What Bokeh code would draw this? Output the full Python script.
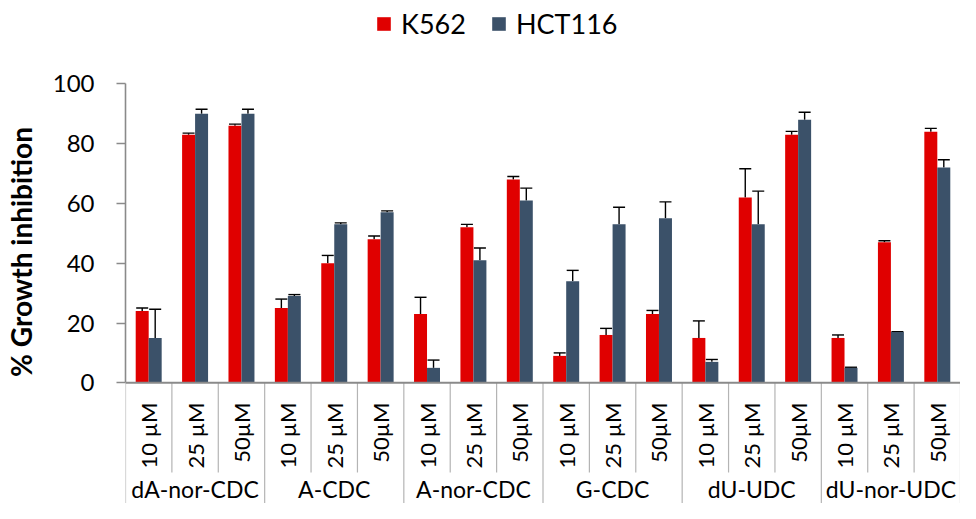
import numpy as np
from bokeh.plotting import figure
from bokeh.models import (Range1d, ColumnDataSource, Whisker, TeeHead, Legend,
                          LegendItem, Span, FixedTicker)
from bokeh.embed import file_html
from bokeh.resources import INLINE
from bokeh.core.properties import value

# ---------------- data ----------------
groups = ["dA-nor-CDC", "A-CDC", "A-nor-CDC", "G-CDC", "dU-UDC", "dU-nor-UDC"]
concentrations = ["10 µM", "25 µM", "50µM"]
series_names = ["K562", "HCT116"]
k562 = [24, 83, 86, 25, 40, 48, 23, 52, 68, 9, 16, 23, 15, 62, 83, 15, 47, 84]
k562_err = [1.0, 0.5, 0.5, 3.0, 2.6, 1.1, 5.6, 1.0, 1.0, 1.0, 2.2, 1.2, 5.7, 9.6, 1.1, 1.0, 0.5, 1.1]
hct116 = [15, 90, 90, 29, 53, 57, 5, 41, 61, 34, 53, 55, 7, 53, 88, 5, 17, 72]
hct116_err = [9.6, 1.5, 1.5, 0.5, 0.5, 0.5, 2.6, 4.1, 4.1, 3.6, 5.7, 5.5, 0.8, 11.1, 2.5, 0.2, 0.1, 2.6]
y_ticks = [0, 20, 40, 60, 80, 100]
y_title = "% Growth inhibition"

# ---------------- layout / style ----------------
FONT = "Lato"
RED = "#E00000"
BLUE = "#3B5169"
AXIS_GRAY = "#8A8A8A"
SEP_GRAY = "#B4B4B4"

W, H = 960, 503
frame_left = 117
px_per_unit = 2.99
zero_px = 382.3
n_conc = len(concentrations)
n = len(groups) * n_conc
x_end = float(n)
y_top = zero_px / px_per_unit
y_bot = -(H - zero_px) / px_per_unit

centers = np.arange(n) + 0.5
bar_w = 0.28

k_arr = np.array(k562, dtype=float)
h_arr = np.array(hct116, dtype=float)
src_k = ColumnDataSource(dict(x=centers - bar_w / 2, top=k_arr, upper=k_arr + np.array(k562_err)))
src_h = ColumnDataSource(dict(x=centers + bar_w / 2, top=h_arr, upper=h_arr + np.array(hct116_err)))

p = figure(width=W, height=H, x_range=Range1d(0, x_end), y_range=Range1d(y_bot, y_top),
           output_backend="svg", toolbar_location=None, x_axis_location=None,
           min_border_left=frame_left, min_border_right=0, min_border_top=0,
           min_border_bottom=0, outline_line_color=None)
p.grid.visible = False

r_k = p.vbar(x="x", top="top", width=bar_w, bottom=0, source=src_k,
             fill_color=RED, line_color=None)
r_h = p.vbar(x="x", top="top", width=bar_w, bottom=0, source=src_h,
             fill_color=BLUE, line_color=None)

for src in (src_k, src_h):
    w = Whisker(source=src, base="x", upper="upper", lower="top", dimension="height",
                upper_head=TeeHead(size=12, line_color="black", line_width=1.4),
                lower_head=None, line_color="black", line_width=1.4)
    p.add_layout(w)

# y axis
ax = p.yaxis[0]
ax.bounds = (0, 100)
ax.ticker = FixedTicker(ticks=y_ticks)
ax.minor_tick_line_color = None
ax.major_tick_out = 9
ax.major_tick_in = 0
ax.axis_line_color = AXIS_GRAY
ax.axis_line_width = 1.6
ax.major_tick_line_color = AXIS_GRAY
ax.major_tick_line_width = 1.6
ax.major_label_text_font = FONT
ax.major_label_text_font_size = "24px"
ax.major_label_text_color = "black"
ax.major_label_standoff = 22
ax.axis_label = y_title
ax.axis_label_text_font = FONT
ax.axis_label_text_font_style = "bold"
ax.axis_label_text_font_size = "28px"
ax.axis_label_text_color = "black"
ax.axis_label_standoff = 12

# x axis line at zero
p.add_layout(Span(location=0, dimension="width", line_color=AXIS_GRAY, line_width=2))

# category separators
bounds = np.arange(n + 1)
inner = [b for b in bounds if b % n_conc != 0]
outer = [b for b in bounds if b % n_conc == 0]
p.segment(x0=inner, y0=[0] * len(inner), x1=inner, y1=[-30] * len(inner),
          line_color=SEP_GRAY, line_width=1.2)
p.segment(x0=outer, y0=[0] * len(outer), x1=outer, y1=[y_bot] * len(outer),
          line_color=SEP_GRAY, line_width=1.2)

# concentration labels (rotated)
conc_labels = concentrations * len(groups)
p.text(x=centers, y=[-6.6] * n, text=conc_labels, angle=np.pi / 2,
       text_align="right", text_baseline="middle", text_font=value(FONT),
       text_font_size="22px", text_color="black")

# group labels
g_centers = np.arange(len(groups)) * n_conc + n_conc / 2
p.text(x=g_centers, y=[-35.4] * len(groups), text=groups, text_align="center",
       text_baseline="middle", text_font=value(FONT), text_font_size="23px",
       text_color="black")

legend = Legend(items=[LegendItem(label=series_names[0], renderers=[r_k]),
                       LegendItem(label=series_names[1], renderers=[r_h])],
                orientation="horizontal", location=(250, 463),
                glyph_width=17, glyph_height=17, label_standoff=9, spacing=24,
                padding=0, margin=0, border_line_color=None, background_fill_alpha=0,
                label_text_font=FONT, label_text_font_size="27px",
                label_text_color="black")
p.add_layout(legend)

open("out.html", "w").write(file_html(p, INLINE))
